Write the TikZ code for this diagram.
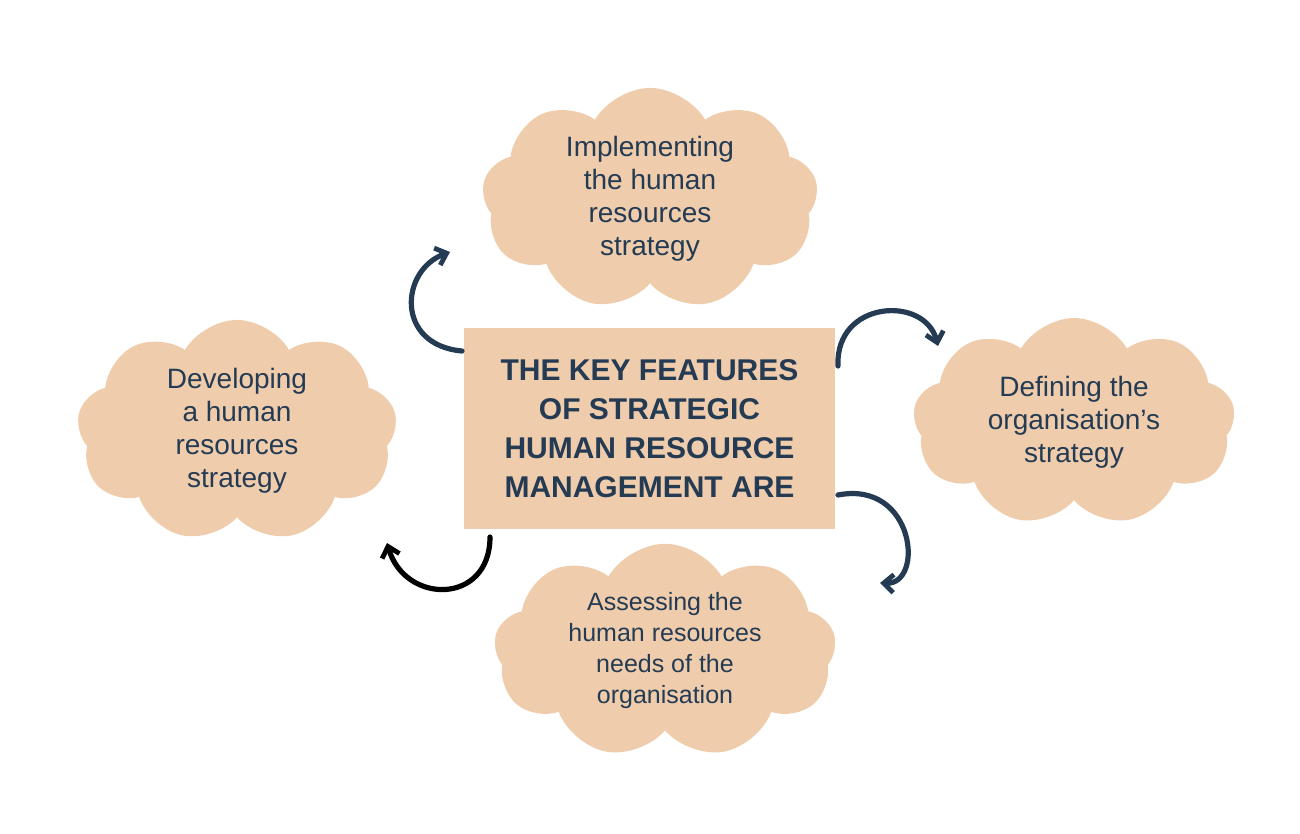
\documentclass[tikz,border=0pt]{standalone}
\usepackage{fontspec}
\setmainfont{Liberation Sans}
\usetikzlibrary{shapes.symbols,arrows.meta}
\definecolor{peach}{HTML}{EFCDAC}
\definecolor{navy}{HTML}{243B53}
\begin{document}
\begin{tikzpicture}[x=0.5pt,y=-0.5pt,
  cl/.style={cloud,cloud puffs=9,cloud puff arc=120,aspect=1.6,fill=peach,text=navy,align=center,inner sep=0pt,font=\fontsize{14}{16.5}\selectfont},
  arr/.style={line width=2.6pt,line cap=round,-{Straight Barb[length=5pt,width=9pt,line width=2.4pt]}}]
\useasboundingbox[fill=white] (0,0) rectangle (1300,834);
\node[fill=peach,minimum width=185.5pt,minimum height=100.5pt,inner sep=0pt,text=navy,align=center,font=\bfseries\fontsize{15}{19.5}\selectfont] (c) at (649.5,428.5) {THE KEY FEATURES\\OF STRATEGIC\\HUMAN RESOURCE\\MANAGEMENT ARE};
\node[cl,minimum width=168pt,minimum height=100pt] (t) at (650,199) {Implementing\\the human\\resources\\strategy};
\node[cl,minimum width=160pt,minimum height=106pt] (l) at (237,431) {Developing\\a human\\resources\\strategy};
\node[cl,minimum width=161pt,minimum height=104pt] (r) at (1074,422) {Defining the\\organisation's\\strategy};
\node[cl,minimum width=171pt,minimum height=104pt,font=\fontsize{12.5}{15.5}\selectfont] (b) at (665,651) {Assessing the\\human resources\\needs of the\\organisation};
\coordinate (a1s) at (462,351); \coordinate (a1e) at (450,252);
\coordinate (a2s) at (838,366); \coordinate (a2e) at (938,346);
\coordinate (a3s) at (838,495); \coordinate (a3e) at (880,583);
\coordinate (a4s) at (490,537); \coordinate (a4e) at (387,543);
\draw[arr,navy] (a1s) .. controls (395,345) and (400,270) .. (a1e);
\draw[arr,navy] (a2s) .. controls (835,300) and (925,295) .. (a2e);
\draw[arr,navy] (a3s) .. controls (915,480) and (925,585) .. (a3e);
\draw[arr,black] (a4s) .. controls (490,605) and (405,605) .. (a4e);
\end{tikzpicture}
\end{document}
